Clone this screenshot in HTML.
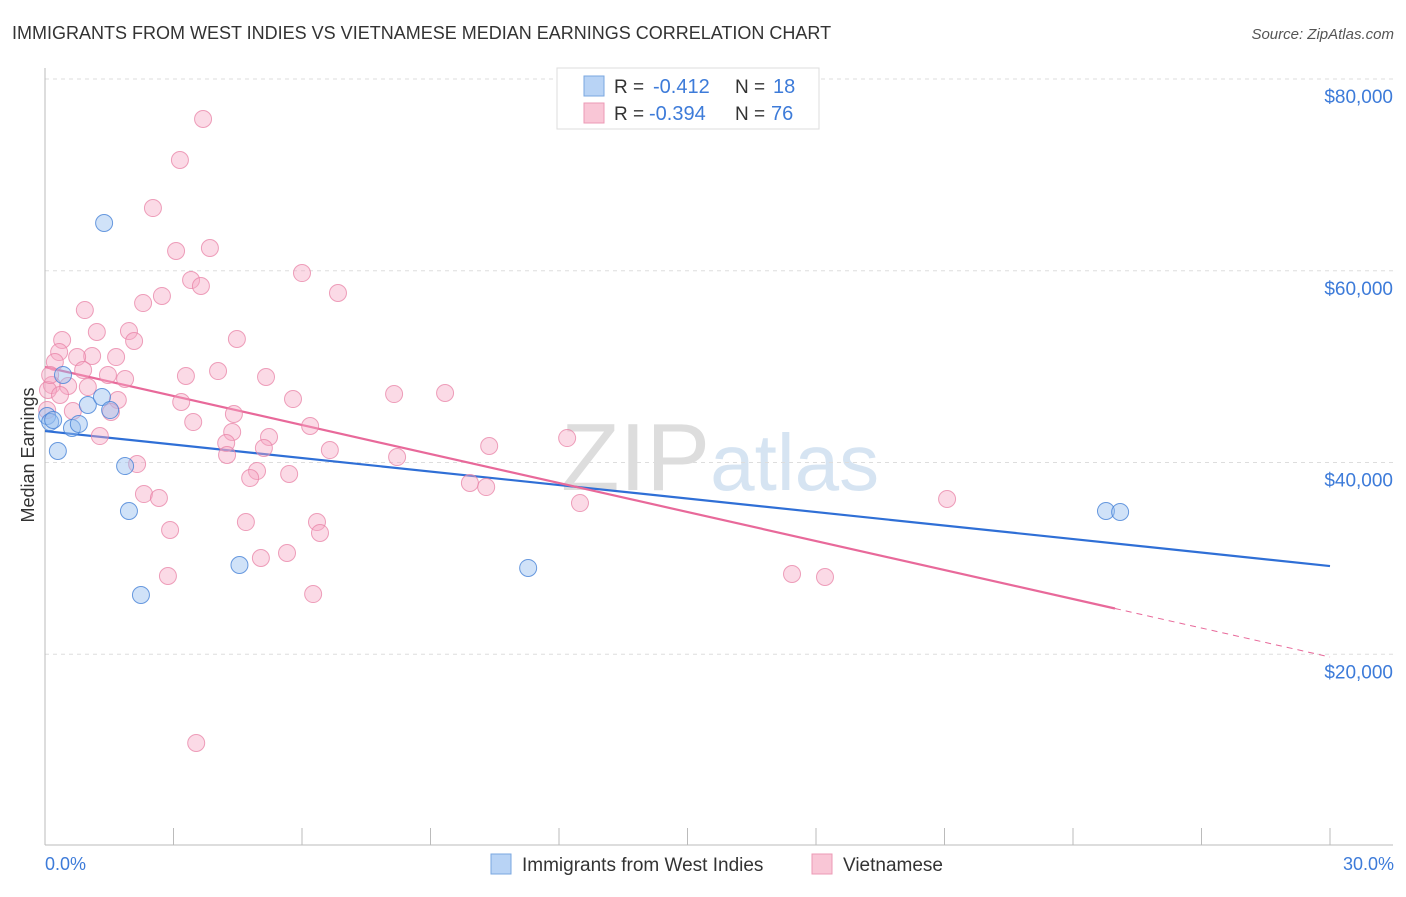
<!DOCTYPE html>
<html><head><meta charset="utf-8"><style>
body{margin:0;background:#fff;font-family:"Liberation Sans",sans-serif}
svg text{font-family:"Liberation Sans",sans-serif}
</style></head><body>
<svg width="1406" height="892" xmlns="http://www.w3.org/2000/svg">
<text x="12" y="39" font-size="18" fill="#333">IMMIGRANTS FROM WEST INDIES VS VIETNAMESE MEDIAN EARNINGS CORRELATION CHART</text>
<text x="1394" y="39" font-size="15" fill="#555" font-style="italic" text-anchor="end">Source: ZipAtlas.com</text>
<text x="720" y="490" font-size="96" fill="#e4e4e4" text-anchor="middle" font-family="Liberation Serif"><tspan fill="#dddddd">ZIP</tspan><tspan fill="#d6e4f2" font-family="Liberation Sans" font-size="80">atlas</tspan></text>
<g id="grid"></g><g id="axes"></g><g id="trends"></g><g id="pts"></g>
<text transform="translate(34,455) rotate(-90)" font-size="18" fill="#333" text-anchor="middle">Median Earnings</text>
<text x="45" y="870" font-size="18" fill="#3d7bd9">0.0%</text>
<text x="1394" y="870" font-size="18" fill="#3d7bd9" text-anchor="end">30.0%</text>
<g>
<rect x="557" y="68" width="262" height="61" fill="#fff" stroke="#ddd"/>
<rect x="584" y="76" width="20" height="20" fill="#b8d3f5" stroke="#7aa7e0"/>
<rect x="584" y="103" width="20" height="20" fill="#f9c6d6" stroke="#ec9ab5"/>
<text x="614" y="93" font-size="19" fill="#333">R =</text>
<text x="653" y="93" font-size="20" fill="#3d7bd9">-0.412</text>
<text x="735" y="93" font-size="19" fill="#333">N =</text>
<text x="773" y="93" font-size="20" fill="#3d7bd9">18</text>
<text x="614" y="120" font-size="19" fill="#333">R =</text>
<text x="649" y="120" font-size="20" fill="#3d7bd9">-0.394</text>
<text x="735" y="120" font-size="19" fill="#333">N =</text>
<text x="771" y="120" font-size="20" fill="#3d7bd9">76</text>
</g>
<g>
<rect x="491" y="854" width="20" height="20" fill="#b8d3f5" stroke="#7aa7e0"/>
<text x="522" y="871" font-size="19" fill="#333">Immigrants from West Indies</text>
<rect x="812" y="854" width="20" height="20" fill="#f9c6d6" stroke="#ec9ab5"/>
<text x="843" y="871" font-size="19" fill="#333">Vietnamese</text>
</g>
</svg>
<script>
const yTicks=[20000,40000,60000,80000];
const yTickLabels=["$20,000","$40,000","$60,000","$80,000"];
const xTicks=[0,3,6,9,12,15,18,21,24,27,30];
const blueX=[0.05,0.12,0.19,0.30,0.42,0.63,0.79,1.0,1.33,1.38,1.52,1.87,1.96,2.24,4.54,11.28,24.77,25.1];
const blueY=[44850,44220,44430,41200,49130,43600,44020,46000,46830,64980,45470,39630,34940,26180,29310,29000,34940,34840];
const pinkX=[3.69,3.15,2.52,3.85,3.06,3.41,3.64,6.00,6.84,2.73,2.29,0.93,1.21,1.96,0.40,2.08,4.48,0.33,1.10,1.66,0.75,0.23,0.89,1.47,3.29,4.04,5.16,1.87,0.16,0.54,1.00,8.15,9.34,1.70,3.18,5.79,0.65,1.54,4.41,3.46,6.19,4.37,1.28,5.23,4.23,5.11,10.37,12.19,6.65,8.22,4.25,2.15,4.95,4.79,5.70,9.92,10.30,2.31,2.66,12.49,21.06,4.69,6.35,2.92,6.42,5.04,5.65,2.87,17.44,18.21,6.26,3.53,0.07,0.05,0.12,0.35];
const pinkY=[75830,71550,66540,62370,62060,59030,58410,59760,57680,57370,56630,55900,53610,53710,52780,52670,52880,51520,51110,51000,51000,50480,49650,49130,49020,49540,48920,48710,48080,47980,47870,47140,47250,46520,46310,46620,45370,45270,45060,44220,43810,43180,42760,42660,42030,41510,41720,42550,41300,40570,40780,39840,39110,38380,38800,37860,37440,36710,36300,35770,36190,33790,33790,32960,32650,30040,30560,28160,28370,28060,26280,10740,47560,45470,49130,47040];
const blueTrend=[43280,29200];
const pinkTrend=[49960,19710];
const pinkSolidEnd=24.98;
const NS="http://www.w3.org/2000/svg";
const sx=v=>45+v/30*1285, sy=v=>846-v/80000*767;
function mk(t,a,p){const e=document.createElementNS(NS,t);for(const k in a)e.setAttribute(k,a[k]);document.getElementById(p).appendChild(e);return e;}
yTicks.forEach((t,i)=>{
 const l=mk('line',{x1:45,x2:1393,y1:sy(t),y2:sy(t),stroke:'#ddd','stroke-dasharray':'4,4'},'grid');
 
 
 const tx=mk('text',{x:1393,y:sy(t)+24,'font-size':19,fill:'#3d7bd9','text-anchor':'end'},'grid');
 tx.textContent=yTickLabels[i];
 
 
});
let ax=mk('line',{x1:45,x2:1393,y1:845,y2:845,stroke:'#bbb'},'axes');


ax=mk('line',{x1:45,x2:45,y1:68,y2:845,stroke:'#bbb'},'axes');


xTicks.forEach(t=>{const l=mk('line',{x1:sx(t),x2:sx(t),y1:828,y2:845,stroke:'#bbb'},'axes');
 
 });
function tl(a,b,x0,x1,c,dash,name){const f=x=>a+(b-a)*x/30;const l=mk('line',{x1:sx(x0),y1:sy(f(x0)),x2:sx(x1),y2:sy(f(x1)),stroke:c,'stroke-width':dash?1:2.2},'trends');if(dash)l.setAttribute('stroke-dasharray','6,5');
 
 }
tl(blueTrend[0],blueTrend[1],0,30,'#2f6fd6',false,'west-indies-trend');
tl(pinkTrend[0],pinkTrend[1],0,pinkSolidEnd,'#e8699a',false,'vietnamese-trend');
tl(pinkTrend[0],pinkTrend[1],pinkSolidEnd,30,'#e8699a',true,'vietnamese-trend-extension');
pinkX.forEach((x,i)=>{const c=mk('circle',{cx:sx(x),cy:sy(pinkY[i]),r:8.5,fill:'rgba(246,168,195,0.42)',stroke:'rgba(232,130,165,0.75)','stroke-width':1},'pts');
 
 });
blueX.forEach((x,i)=>{const c=mk('circle',{cx:sx(x),cy:sy(blueY[i]),r:8.5,fill:'rgba(150,190,240,0.45)',stroke:'rgba(70,130,215,0.8)','stroke-width':1},'pts');
 
 });
</script>
</body></html>
